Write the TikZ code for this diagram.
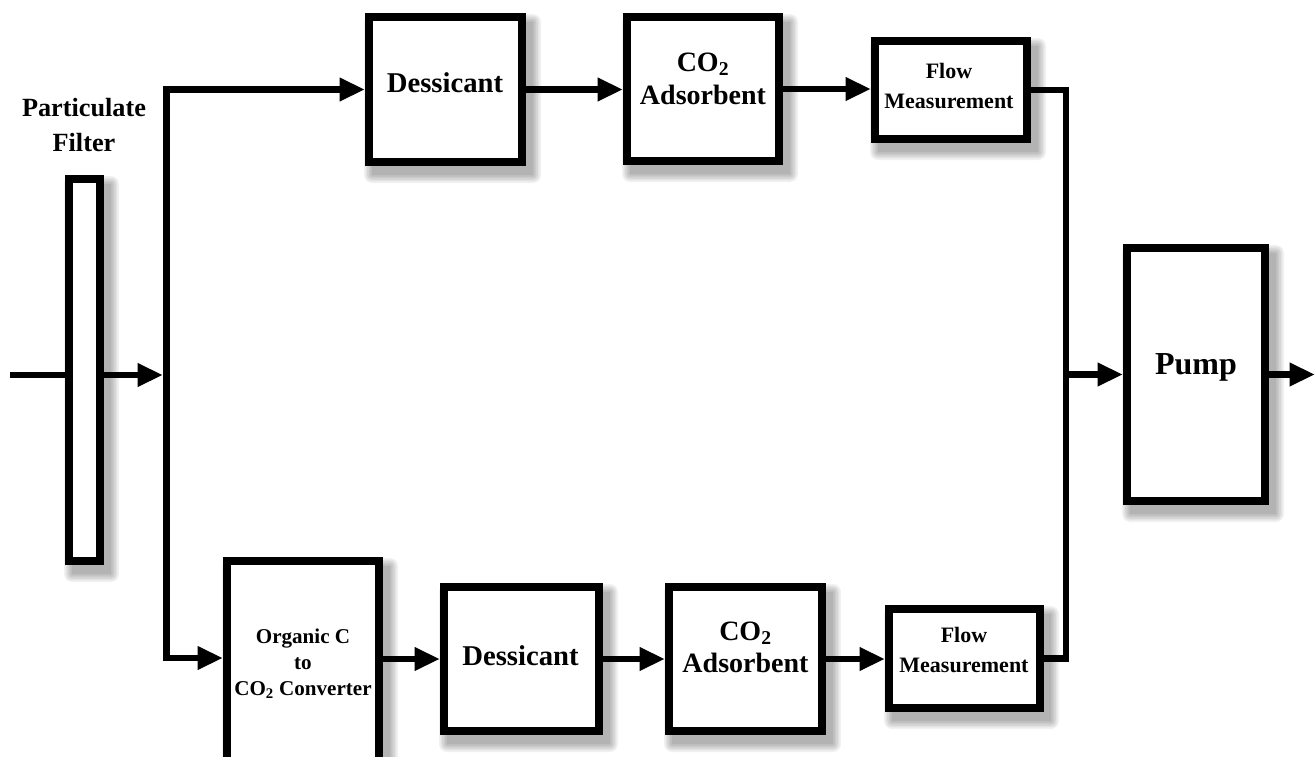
\documentclass[tikz,border=0pt]{standalone}
\usepackage{fontspec}
\setmainfont{Liberation Serif}
\usetikzlibrary{arrows.meta,calc,backgrounds}
\newcommand\softshadowof[1]{%
  \foreach \e in {0,1.6,3.2,4.8,6.4,8}{%
    \fill[black,opacity=0.055,rounded corners=\e*0.75pt]
      ($(#1.north west)+(7-\e,9-\e)$) rectangle ($(#1.south east)+(7+\e,9+\e)$);}}
\begin{document}
\begin{tikzpicture}[x=0.75pt,y=-0.75pt,
  box/.style={draw, line width=6pt, fill=white, inner sep=0pt},
  lbl/.style={font=\bfseries, align=center, inner sep=0pt},
  wire/.style={line width=5.2pt, line join=miter},
  flow/.style={wire, -{Triangle[length=19pt,width=16.5pt]}},
  flowboth/.style={wire, {Triangle[length=19pt,width=16.5pt]}-{Triangle[length=19pt,width=16.5pt]}},
]
\useasboundingbox (0,0) rectangle (1315,757);

% boxes
\node[box, minimum width=23.25pt, minimum height=286.5pt] (filter) at (84.5,370) {};
\node[box, minimum width=114.75pt, minimum height=108.75pt] (d1) at (445.5,89.5) {};
\node[box, minimum width=114pt, minimum height=108pt] (c1) at (703,89) {};
\node[box, minimum width=114pt, minimum height=73.5pt] (f1) at (951,90) {};
\node[box, minimum width=103.5pt, minimum height=189.75pt] (pump) at (1196,374.5) {};
\node[box, minimum width=114pt, minimum height=176.25pt] (conv) at (303,678.5) {};
\node[box, minimum width=116.25pt, minimum height=108pt] (d2) at (521.5,659) {};
\node[box, minimum width=114.75pt, minimum height=108pt] (c2) at (745.5,659) {};
\node[box, minimum width=113.25pt, minimum height=74.25pt] (f2) at (964.5,658.5) {};

% shadows and background
\begin{scope}[on background layer]
  \fill[white] (0,0) rectangle (1315,757);
  \foreach \n in {filter,d1,c1,f1,pump,conv,d2,c2,f2}{\softshadowof{\n}}
\end{scope}

% labels
\node[lbl, font=\bfseries\fontsize{19.7pt}{26pt}\selectfont] (filt) at (84,125) {Particulate\\Filter};
\node[lbl, font=\bfseries\fontsize{21.5pt}{25pt}\selectfont] (d1t) at (445,82.5) {Dessicant};
\node[lbl, font=\bfseries\fontsize{21pt}{25pt}\selectfont] (c1t) at (703,79) {CO\textsubscript{2}\\Adsorbent};
\node[lbl, font=\bfseries\fontsize{16.5pt}{22pt}\selectfont] (f1t) at (949,86) {Flow\\Measurement};
\node[lbl, font=\bfseries\fontsize{24pt}{28pt}\selectfont] (pumpt) at (1196,367.5) {Pump};
\node[lbl, font=\bfseries\fontsize{15.8pt}{19.5pt}\selectfont] (convt) at (303,664) {Organic C\\to\\CO\textsubscript{2} Converter};
\node[lbl, font=\bfseries\fontsize{21.5pt}{25pt}\selectfont] (d2t) at (520.5,655.5) {Dessicant};
\node[lbl, font=\bfseries\fontsize{21pt}{24pt}\selectfont] (c2t) at (745.5,647.5) {CO\textsubscript{2}\\Adsorbent};
\node[lbl, font=\bfseries\fontsize{16.5pt}{22pt}\selectfont] (f2t) at (964,650) {Flow\\Measurement};

% junction coordinates
\coordinate (in) at (10,375);
\coordinate (jm) at (163,375);
\coordinate (jb) at (166.5,658);
\coordinate (jr) at (1066,374.5);
\coordinate (out) at (1315,374.5);

% connectors
\draw[wire] (in) -- (in -| filter.west);
\draw[flow] (in -| filter.east) -- (jm);
\draw[flowboth] (d1.west) -| (jb) -- (jb -| conv.west);
\draw[flow] (d1.east) -- (d1.east -| c1.west);
\draw[flow] (c1.east) -- (c1.east -| f1.west);
\draw[wire] (f1.east) -| (jr) |- (f2.east);
\draw[flow] (jr) -- (pump.west);
\draw[flow] (pump.east) -- (out);
\draw[flow] (conv.east |- d2.west) -- (d2.west);
\draw[flow] (d2.east) -- (d2.east -| c2.west);
\draw[flow] (c2.east) -- (c2.east -| f2.west);
\end{tikzpicture}
\end{document}
